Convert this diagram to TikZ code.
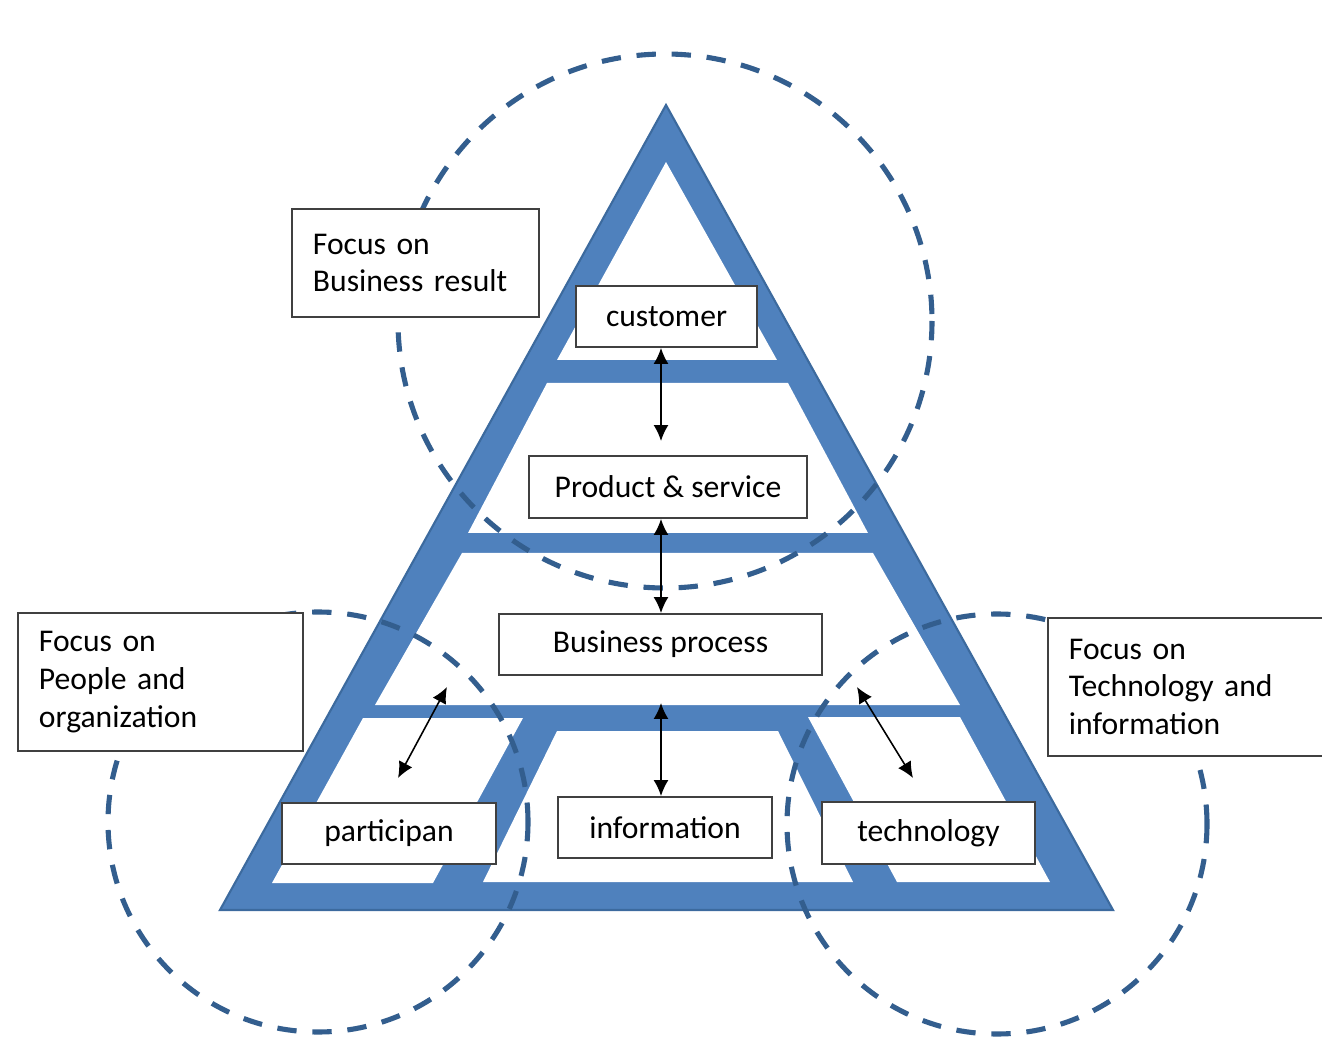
\documentclass[tikz,border=0pt]{standalone}
\usepackage{fontspec}
\setmainfont{Carlito}
\usetikzlibrary{arrows.meta}
\definecolor{pyrblue}{HTML}{4F81BD}
\definecolor{pyredge}{HTML}{3C6A9E}
\definecolor{ringblue}{HTML}{335E8E}

\begin{document}
\begin{tikzpicture}[
  x = 0.02cm, y = -0.02cm,
  every node/.style = {font=\fontsize{18}{21.6}\selectfont},
  box/.style = {draw=black!75, fill=white, line width=1.1pt, inner sep=0pt},
  focus/.style = {box, anchor=north west, align=left, inner xsep=0.42cm},
  ring/.style = {draw=ringblue, line width=2.9pt, dash pattern=on 11pt off 9pt},
  link/.style = {line width=0.9pt, {Latex[length=3.2mm,width=3mm]}-{Latex[length=3.2mm,width=3mm]}}
  ]
  \clip (0,0) rectangle (1322,1043);

  %pyramid
  \filldraw[fill=pyrblue, draw=pyredge, line width=1.2pt] (666,105) -- (1113,910) -- (220,910) -- cycle;
  \fill[white] (666,162) -- (777,360) -- (557,360) -- cycle;
  \fill[white] (547,383) -- (788,383) -- (868,533) -- (468,533) -- cycle;
  \fill[white] (462,553) -- (873,553) -- (960,705) -- (375,705) -- cycle;
  \fill[white] (363,718) -- (523,718) -- (433,883) -- (272,883) -- cycle;
  \fill[white] (557,731) -- (778,731) -- (853,882) -- (483,882) -- cycle;
  \fill[white] (808,717) -- (960,717) -- (1050,882) -- (897,882) -- cycle;

  %focus circles
  \draw[ring] (665,321) circle (267);
  \draw[ring] (318,822) circle (210);
  \draw[ring] (997,824) circle (210);

  %levels
  \node[box, minimum width=3.62cm, minimum height=1.22cm] (cust) at (666.5,316.5) {customer};
  \node[box, minimum width=5.56cm, minimum height=1.24cm] (prod) at (668,487) {Product \& service};
  \node[box, minimum width=6.46cm, minimum height=1.22cm] (bproc) at (660.5,644.5) {Business process};
  \node[box, minimum width=4.28cm, minimum height=1.22cm] (partic) at (389,833.5) {participan};
  \node[box, minimum width=4.28cm, minimum height=1.22cm] (info) at (665,827.5) {information};
  \node[box, minimum width=4.26cm, minimum height=1.24cm] (tech) at (928.5,833) {technology};

  %focus labels
  \node[focus, text width=4.1cm, minimum height=2.16cm] (fres) at (291,208) {Focus on\\Business result};
  \node[focus, text width=4.86cm, minimum height=2.76cm] (fpeople) at (17,612) {Focus on\\People and\\organization};
  \node[focus, text width=5.2cm, minimum height=2.76cm] (ftech) at (1047,617) {Focus on\\Technology and\\information};

  %arrows
  \coordinate (cp) at (661,441);
  \draw[link] (cust.south -| cp) -- (cp);
  \draw[link] (prod.south -| cp) -- (bproc.north -| cp);
  \coordinate (ib) at (661,703);
  \draw[link] (ib) -- (info.north -| ib);
  \coordinate (pa) at (447,687);
  \coordinate (pb) at (398,778);
  \draw[link] (pa) -- (pb);
  \coordinate (ta) at (857,687);
  \coordinate (tb) at (913,778);
  \draw[link] (ta) -- (tb);
\end{tikzpicture}
\end{document}
